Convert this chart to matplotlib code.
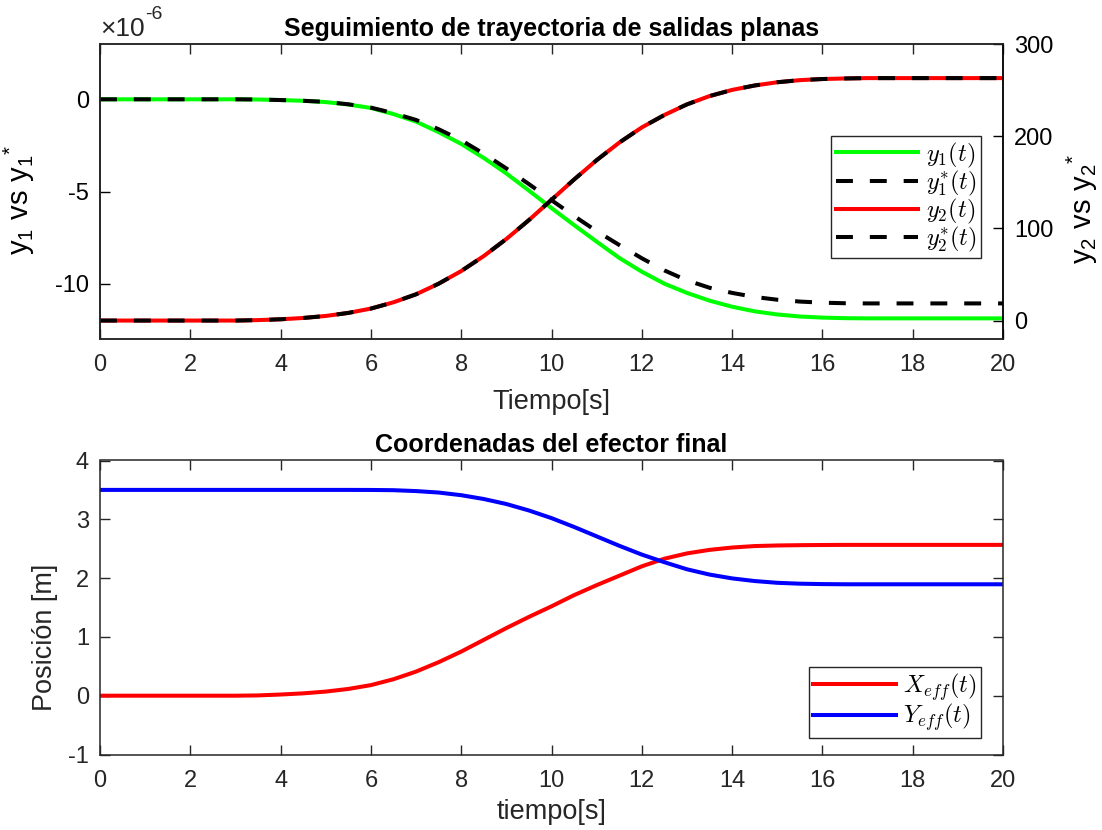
import matplotlib
matplotlib.use("Agg")
import matplotlib.pyplot as plt

plt.rcParams['font.family'] = ['Liberation Sans', 'DejaVu Sans']
plt.rcParams['mathtext.fontset'] = 'cm'
plt.rcParams['axes.unicode_minus'] = False

# ---------------- data ----------------
t = [0, 0.5, 1, 1.5, 2, 2.5, 3, 3.5, 4, 4.5, 5, 5.5, 6, 6.5, 7, 7.5, 8, 8.5, 9, 9.5,
     10, 10.5, 11, 11.5, 12, 12.5, 13, 13.5, 14, 14.5, 15, 15.5, 16, 16.5, 17, 17.5,
     18, 18.5, 19, 19.5, 20]

# y1 in units of 1e-6
y1 = [0, 0, 0, 0, 0, 0, 0, -0.01, -0.04, -0.08, -0.15, -0.28, -0.47, -0.8, -1.21, -1.78,
      -2.42, -3.18, -4.02, -4.95, -5.9, -6.82, -7.72, -8.6, -9.35, -10.0, -10.5, -10.92,
      -11.25, -11.5, -11.67, -11.78, -11.84, -11.87, -11.88, -11.88, -11.88, -11.88,
      -11.88, -11.88, -11.88]
y1_ref = [0, 0, 0, 0, 0, 0, 0, -0.01, -0.04, -0.08, -0.14, -0.27, -0.45, -0.75, -1.12, -1.62,
          -2.22, -2.95, -3.75, -4.6, -5.47, -6.33, -7.15, -7.9, -8.62, -9.28, -9.82, -10.22,
          -10.5, -10.72, -10.87, -10.97, -11.03, -11.06, -11.07, -11.07, -11.07, -11.07,
          -11.07, -11.07, -11.07]
y2 = [0, 0, 0, 0, 0, 0, 0, 0.5, 1.4, 2.8, 5, 8.3, 13, 19.8, 28.5, 40, 53.7, 70, 88.5, 109,
      131, 153, 174, 193, 209.5, 223, 234.5, 243.5, 250.2, 255, 258.5, 260.8, 262, 262.6,
      263, 263, 263, 263, 263, 263, 263]
y2_ref = [0, 0, 0, 0, 0, 0, 0, 0.5, 1.4, 2.8, 5, 8.3, 13, 19.8, 28.5, 40, 53.7, 70, 88.5, 109,
          131, 153, 174, 193, 209.5, 223, 234.5, 243.5, 250.2, 255, 258.5, 260.8, 262, 262.6,
          263, 263, 263, 263, 263, 263, 263]

x_eff = [0, 0, 0, 0, 0, 0, 0, 0.005, 0.02, 0.04, 0.07, 0.115, 0.18, 0.28, 0.41, 0.57, 0.75,
         0.95, 1.15, 1.34, 1.52, 1.71, 1.88, 2.04, 2.2, 2.33, 2.42, 2.48, 2.52, 2.545, 2.555,
         2.56, 2.563, 2.565, 2.565, 2.565, 2.565, 2.565, 2.565, 2.565, 2.565]
y_eff = [3.5, 3.5, 3.5, 3.5, 3.5, 3.5, 3.5, 3.5, 3.5, 3.5, 3.5, 3.5, 3.499, 3.495, 3.48,
         3.455, 3.41, 3.345, 3.26, 3.15, 3.02, 2.87, 2.71, 2.55, 2.4, 2.27, 2.15, 2.06,
         1.995, 1.95, 1.92, 1.905, 1.898, 1.895, 1.895, 1.895, 1.895, 1.895, 1.895, 1.895,
         1.895]

xticks = [0, 2, 4, 6, 8, 10, 12, 14, 16, 18, 20]
y1_ticks = [-10, -5, 0]
y2_ticks = [0, 100, 200, 300]
pos_ticks = [-1, 0, 1, 2, 3, 4]

# ---------------- styling ----------------
AX = '#262626'
TICK_FS = 17
LABEL_FS = 19.5
YLAB_FS = 21
TITLE_FS = 18
LEG_FS = 17.5
LW = 2.9
DASH = (4.2, 4.2)

fig = plt.figure(figsize=(11.02, 8.30), dpi=100)

def style(ax):
    for s in ax.spines.values():
        s.set_color(AX)
        s.set_linewidth(1.1)
    ax.tick_params(direction='in', length=7, width=1.0, colors=AX,
                   labelsize=TICK_FS, top=True)
    ax.tick_params(axis='x', pad=11)
    ax.tick_params(axis='y', pad=8)

def legend_style(leg):
    leg.get_frame().set_edgecolor(AX)
    leg.get_frame().set_linewidth(1.0)

# ---------------- top panel ----------------
ax1 = fig.add_axes([100/1102, 1-339/830, 903/1102, 295/830])
ax1.plot(t, y1, color='#00ff00', lw=LW, label=r'$y_1(t)$')
ax1.plot(t, y1_ref, color='k', lw=LW, dashes=DASH, label=r'$y_1^{*}(t)$')
ax1.set_xlim(0, 20)
ax1.set_ylim(-13, 3)
ax1.set_xticks(xticks)
ax1.set_yticks(y1_ticks)
style(ax1)
ax1.tick_params(axis='y', colors='k', right=False)
ax1.spines['left'].set_color('k')
ax1.set_xlabel('Tiempo[s]', fontsize=LABEL_FS, color=AX, labelpad=9)
ax1.set_ylabel(r'$\mathregular{y_1\ vs\ y_1{}^{*}}$', fontsize=YLAB_FS, color='k')
ax1.yaxis.set_label_coords(-0.07, 0.47)
off = ax1.text(0, 1.01, '×10', transform=ax1.transAxes,
               fontsize=19, ha='left', va='bottom', color=AX)
ax1.annotate('-6', xy=(1.0, 0.75), xycoords=off, fontsize=14, color=AX,
             ha='left', va='bottom')
ax1.set_title('Seguimiento de trayectoria de salidas planas', fontsize=TITLE_FS,
              fontweight='bold', pad=6)

ax2 = ax1.twinx()
ax2.plot(t, y2, color='#ff0000', lw=LW, label=r'$y_2(t)$')
ax2.plot(t, y2_ref, color='k', lw=LW, dashes=DASH, label=r'$y_2^{*}(t)$')
ax2.set_ylim(-20, 300)
ax2.set_yticks(y2_ticks)
for s in ax2.spines.values():
    s.set_color(AX)
    s.set_linewidth(1.1)
ax2.spines['right'].set_color('k')
ax2.tick_params(axis='y', direction='in', length=7, width=1.0, colors='k',
                labelsize=TICK_FS, pad=8)
ax2.set_ylabel(r'$\mathregular{y_2\ vs\ y_2{}^{*}}$', fontsize=YLAB_FS, color='k',
               rotation=90)
ax2.yaxis.set_label_coords(1.068, 0.44)

h1, l1 = ax1.get_legend_handles_labels()
h2, l2 = ax2.get_legend_handles_labels()
leg = ax2.legend(h1 + h2, l1 + l2, loc='upper right',
                 bbox_to_anchor=((981-100)/903, 1-(136-44)/295),
                 borderaxespad=0, fontsize=LEG_FS, handlelength=3.4, handletextpad=0.3,
                 labelspacing=-0.04, borderpad=0.18, fancybox=False, framealpha=1)
legend_style(leg)

# ---------------- bottom panel ----------------
ax3 = fig.add_axes([100/1102, 1-754.5/830, 903/1102, 294/830])
ax3.plot(t, x_eff, color='#ff0000', lw=LW, label=r'$X_{eff}(t)$')
ax3.plot(t, y_eff, color='#0000ff', lw=LW, label=r'$Y_{eff}(t)$')
ax3.set_xlim(0, 20)
ax3.set_ylim(-1, 4)
ax3.set_xticks(xticks)
ax3.set_yticks(pos_ticks)
style(ax3)
ax3.tick_params(right=True)
ax3.set_xlabel('tiempo[s]', fontsize=LABEL_FS, color=AX, labelpad=5)
ax3.set_ylabel('Posición [m]', fontsize=LABEL_FS, color=AX)
ax3.yaxis.set_label_coords(-0.046, 0.4)
ax3.set_title('Coordenadas del efector final', fontsize=TITLE_FS, fontweight='bold', pad=6)
leg3 = ax3.legend(loc='lower right', bbox_to_anchor=((981-100)/903, (754.5-737.7)/294),
                  borderaxespad=0, fontsize=LEG_FS, handlelength=3.4, handletextpad=0.3,
                  labelspacing=-0.04, borderpad=0.18, fancybox=False, framealpha=1)
legend_style(leg3)

fig.savefig('out.png', dpi=100)
